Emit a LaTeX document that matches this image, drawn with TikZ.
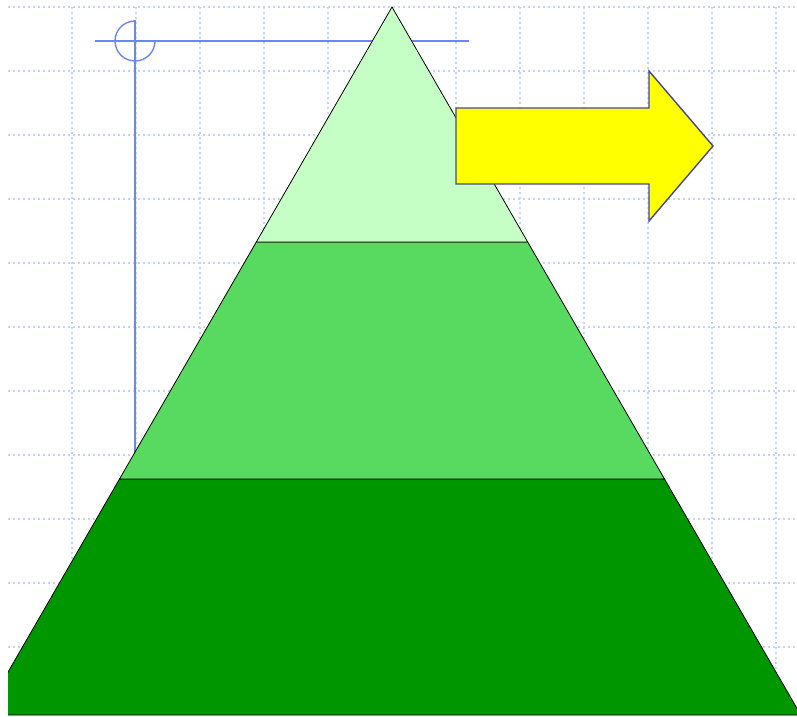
\documentclass[tikz,border=0pt]{standalone}
\usepackage{tikz}
\usetikzlibrary{calc}
\definecolor{GridBlue}{RGB}{196,212,246}
\definecolor{GuideBlue}{RGB}{110,135,240}
\definecolor{TopGreen}{RGB}{198,255,198}
\definecolor{MidGreen}{RGB}{88,217,96}
\definecolor{LowGreen}{RGB}{0,150,0}
\definecolor{ArrowFill}{RGB}{255,255,0}
\definecolor{ArrowEdge}{RGB}{70,70,150}
\tikzset{
  gridline/.style={GridBlue,line width=1.5pt,dash pattern=on 2pt off 3pt},
  guide/.style={GuideBlue,line width=1.4pt},
  layer/.style={draw=black,line width=0.8pt,line join=miter},
  bigarrow/.style={draw=ArrowEdge,fill=ArrowFill,line width=1.4pt,line join=miter},
}

\begin{document}
\begin{tikzpicture}[x=1pt,y=-1pt]
  \useasboundingbox (0,0) rectangle (797,716);
  % dotted grid
  \foreach \y in {7,71,...,711} \draw[gridline] (8,\y) -- (797,\y);
  \foreach \x in {72,136,...,776} \draw[gridline] (\x,7) -- (\x,716);

  % guide lines
  \coordinate (pivot) at (135,41);
  \draw[guide] (95,41) -- (469,41);
  \draw[guide] (135,20) -- (135,479);
  \draw[guide] ($(pivot)+(0,-20)$) arc[start angle=270,end angle=0,radius=20];

  % pyramid
  \coordinate (apex) at (392,7);
  \coordinate (tl) at (256.3,242); \coordinate (tr) at (527.7,242);
  \coordinate (ml) at (119.5,479); \coordinate (mr) at (664.5,479);
  \coordinate (bl) at (-16.8,715); \coordinate (br) at (800.8,715);
  \begin{scope}
    \clip (8,0) rectangle (797,716);
    \draw[layer,fill=LowGreen] (ml) -- (mr) -- (br) -- (bl) -- cycle;
    \draw[layer,fill=MidGreen] (tl) -- (tr) -- (mr) -- (ml) -- cycle;
    \draw[layer,fill=TopGreen] (apex) -- (tr) -- (tl) -- cycle;
  \end{scope}

  % arrow
  \draw[bigarrow] (456,108) -- (649,108) -- (649,71) -- (713,146)
    -- (649,221) -- (649,184) -- (456,184) -- cycle;
\end{tikzpicture}
\end{document}
